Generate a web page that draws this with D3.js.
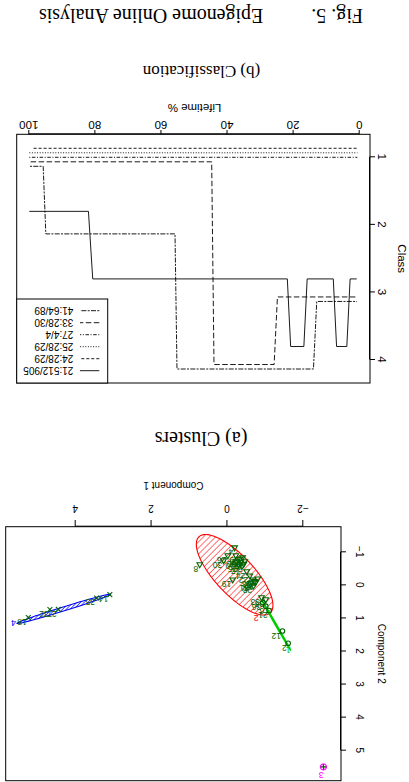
<!DOCTYPE html>
<html><head><meta charset="utf-8">
<script src="https://cdn.jsdelivr.net/npm/d3@7"></script>
<style>body{margin:0;background:#fff}svg{display:block}</style>
</head><body>
<svg id="fig" width="409" height="782"></svg>
<script>
// ---------------- (b) Classification data ----------------
const seriesNames = ["21:512/905", "24:28/29", "25:28/29", "27:4/4", "33:28/30", "41:64/89"];
const lifetimeTicks = [0, 20, 40, 60, 80, 100];
const classTicks = [1, 2, 3, 4];
const life21  = [100, 82.1, 80.8, 21.9, 20.9, 16.9, 15.9, 8.0, 7.0, 3.9, 2.9, 0.9];
const class21 = [2, 2, 3, 3, 4, 4, 3, 3, 4, 4, 3, 3];
const life24  = [98.7, 0.7];
const class24 = [1, 1];
const life25  = [100, 0.7];
const class25 = [1, 1];
const life27  = [100, 0.7];
const class27 = [1, 1];
const life33  = [99.6, 44.8, 44.1, 25.9, 24.9, 0.8];
const class33 = [1, 1, 4, 4, 3, 3];
const life41  = [99.8, 95.8, 95.0, 55.9, 55.3, 14.0, 13.0, 0.8];
const class41 = [1, 1, 2, 2, 4, 4, 3, 3];

// ---------------- (a) Clusters data ----------------
const comp1Ticks = [-2, 0, 2, 4];
const comp2Ticks = [-1, 0, 1, 2, 3, 4, 5];
// cluster "2" (red ellipse) points, triangles
const redC1  = [-0.22, -0.27, -0.35, -0.40, -0.30, -0.46, -0.38, -0.24, -0.33, -0.43,
                -0.59, -0.67, -0.74, -0.69, -0.80, -0.61, -0.72,
                 0.73, -0.19, -0.01, 0.10, -0.14, -0.51, -0.90, -1.01];
const redC2  = [-0.90, -0.78, -0.69, -0.84, -0.63, -0.72, -0.57, -0.72, -0.80, -0.64,
                -0.29, -0.17, -0.08, 0.01, -0.20, -0.05, -0.12,
                -0.63, -1.14, -0.90, -0.75, -0.17, -0.42, 0.37, 0.43];
const redLab = ["9", "10", "11", "13", "15", "16", "17", "20", "34", "37",
                "22", "23", "25", "28", "29", "31", "39",
                "8", "4", "26", "30", "19", "24", "33", "38"];
// cluster "1" (green) points, circles
const greenC1  = [-0.93, -1.01, -1.10, -1.45, -1.60];
const greenC2  = [0.52, 0.63, 0.76, 1.38, 1.75];
const greenLab = ["36", "6", "21", "12", "2"];
// cluster "4" (blue) points, crosses
const blueC1  = [3.10, 3.45, 4.46, 4.68, 5.25];
const blueC2  = [0.28, 0.38, 0.72, 0.73, 0.97];
const blueLab = ["14", "35", "27", "32", "18"];
// cluster "3" (magenta) point, plus
const magC1  = [-2.53];
const magC2  = [5.49];
const magLab = ["3"];
// ellipses: centre, first and second semi-axis vectors (data units)
const ellipseNames = ["2", "1", "4", "3"];
const ellCenter = [[-0.19, -0.32], [-1.295, 1.225], [4.315, 0.71], [-2.53, 5.49]];
const ellAxisU  = [[0.94, -1.15], [-0.365, 0.725], [1.235, 0.44], [0.08, 0]];
const ellAxisV  = [[-0.37, -0.40], [0.012, 0.006], [0.016, -0.058], [0, 0.09]];
const ellColor  = ["#ff0000", "#00cd00", "#0000ff", "#ff00ff"];
const ellLabelPos = [[-0.76, 0.99], [-1.60, 1.97], [5.64, 1.14], [-2.47, 5.74]];

// ---------------- drawing ----------------
const SANS = "'Liberation Sans', Arial, Helvetica, sans-serif";
const SERIF = "'Liberation Serif', 'Times New Roman', serif";
const svg = d3.select("#fig");
const defs = svg.append("defs");
function hatch(id, color, spacing, width) {
  const p = defs.append("pattern").attr("id", id).attr("patternUnits", "userSpaceOnUse")
    .attr("width", spacing).attr("height", spacing).attr("patternTransform", "rotate(45)");
  p.append("line").attr("x1", 0).attr("y1", 0).attr("x2", 0).attr("y2", spacing)
    .attr("stroke", color).attr("stroke-width", width);
}
hatch("hRed", "#ff0000", 4.3, 1.1);
hatch("hBlue", "#0000ff", 2.6, 1.3);
hatch("hGreen", "#00cd00", 3, 1.2);
hatch("hMag", "#ff00ff", 3, 1);
const hatchIds = ["hRed", "hGreen", "hBlue", "hMag"];

// whole figure is shown turned upside down
const root = svg.append("g").attr("transform", "rotate(180 204.5 391)");

// ===== (a) Clusters (top of unrotated page) =====
const xA = d3.scaleLinear().domain([-2, 4]).range([105.7, 333.3]);
const yA = d3.scaleLinear().domain([-1, 5]).range([229.7, 31.3]);
const gA = root.append("g");
gA.append("rect").attr("x", 68).attr("y", 1.3).attr("width", 335.3).attr("height", 254)
  .attr("fill", "none").attr("stroke", "#000").attr("stroke-width", 1);

const minus = d => d < 0 ? "\u2212" + Math.abs(d) : String(d);
const axA1 = gA.append("g").attr("transform", "translate(0,255.3)")
  .call(d3.axisBottom(xA).tickValues(comp1Ticks).tickSize(6.7).tickSizeOuter(0).tickFormat(minus));
axA1.selectAll("text").attr("y", 18.4).attr("dy", "0.35em")
  .style("font-family", SANS).style("font-size", "10px").attr("fill", "#000");
const axA2 = gA.append("g").attr("transform", "translate(68,0)")
  .call(d3.axisLeft(yA).tickValues(comp2Ticks).tickSize(5).tickSizeOuter(0).tickFormat(minus));
axA2.selectAll("text").attr("x", 0).attr("dy", "0.35em").attr("text-anchor", "middle")
  .attr("transform", "translate(-18.3,0) rotate(-90)")
  .style("font-family", SANS).style("font-size", "10px").attr("fill", "#000");
[axA1, axA2].forEach(a => { a.selectAll("line,path").attr("stroke", "#000"); a.attr("font-family", null).attr("font-size", null); });
gA.append("text").attr("x", 235.6).attr("y", 300.5).attr("text-anchor", "middle")
  .style("font-family", SANS).style("font-size", "10px").text("Component 1");
gA.append("text").attr("transform", "translate(27.3,128.3) rotate(-90)").attr("dy", "0.35em")
  .attr("text-anchor", "middle").style("font-family", SANS).style("font-size", "10px").text("Component 2");

// ellipses
const ellLine = d3.line().curve(d3.curveLinearClosed);
ellCenter.forEach((c, i) => {
  const pts = d3.range(0, 120).map(k => {
    const t = k / 120 * 2 * Math.PI;
    return [xA(c[0] + ellAxisU[i][0] * Math.cos(t) + ellAxisV[i][0] * Math.sin(t)),
            yA(c[1] + ellAxisU[i][1] * Math.cos(t) + ellAxisV[i][1] * Math.sin(t))];
  });
  gA.append("path").attr("d", ellLine(pts)).attr("fill", "url(#" + hatchIds[i] + ")")
    .attr("stroke", ellColor[i]).attr("stroke-width", i === 1 ? 1.6 : 1.1);
});

const PG = "#006400";
const ptG = gA.append("g");
function labels(c1, c2, lab) {
  ptG.selectAll(null).data(lab).enter().append("text")
    .attr("x", (d, i) => xA(c1[i]) + 1.5).attr("y", (d, i) => yA(c2[i]) - 1.5)
    .style("font-family", SANS).style("font-size", "8.5px").attr("fill", PG).text(d => d);
}
// triangles
ptG.selectAll(null).data(redC1).enter().append("path")
  .attr("d", (d, i) => { const x = xA(d), y = yA(redC2[i]); return `M${x},${y - 3.2}L${x + 2.8},${y + 1.8}L${x - 2.8},${y + 1.8}Z`; })
  .attr("fill", "none").attr("stroke", PG).attr("stroke-width", 1.1);
labels(redC1, redC2, redLab);
// circles
ptG.selectAll(null).data(greenC1).enter().append("circle")
  .attr("cx", d => xA(d)).attr("cy", (d, i) => yA(greenC2[i])).attr("r", 2.3)
  .attr("fill", "none").attr("stroke", PG).attr("stroke-width", 1.1);
labels(greenC1, greenC2, greenLab);
// crosses
ptG.selectAll(null).data(blueC1).enter().append("path")
  .attr("d", (d, i) => { const x = xA(d), y = yA(blueC2[i]); return `M${x - 2.4},${y - 2.4}L${x + 2.4},${y + 2.4}M${x - 2.4},${y + 2.4}L${x + 2.4},${y - 2.4}`; })
  .attr("stroke", PG).attr("stroke-width", 1.1);
labels(blueC1, blueC2, blueLab);
// plus
ptG.selectAll(null).data(magC1).enter().append("path")
  .attr("d", (d, i) => { const x = xA(d), y = yA(magC2[i]); return `M${x - 2.8},${y}L${x + 2.8},${y}M${x},${y - 2.8}L${x},${y + 2.8}`; })
  .attr("stroke", PG).attr("stroke-width", 1.1);
// cluster labels
gA.selectAll(null).data(ellipseNames).enter().append("text")
  .attr("x", (d, i) => xA(ellLabelPos[i][0])).attr("y", (d, i) => yA(ellLabelPos[i][1]))
  .attr("dy", "0.35em").attr("text-anchor", "middle")
  .style("font-family", SANS).style("font-size", "9px").attr("fill", (d, i) => ellColor[i]).text(d => d);

gA.append("text").attr("x", 208).attr("y", 350.5).attr("text-anchor", "middle")
  .style("font-family", SERIF).style("font-size", "20px").text("(a)  Clusters");

// ===== (b) Classification =====
const xB = d3.scaleLinear().domain([0, 100]).range([49.3, 379.7]);
const yB = d3.scaleLinear().domain([1, 4]).range([624.7, 422]);
const gB = root.append("g");
gB.append("rect").attr("x", 39).attr("y", 399).attr("width", 353.3).attr("height", 248.7)
  .attr("fill", "none").attr("stroke", "#000").attr("stroke-width", 1);
const axB1 = gB.append("g").attr("transform", "translate(0,647.7)")
  .call(d3.axisBottom(xB).tickValues(lifetimeTicks).tickSize(4.3).tickSizeOuter(0).tickFormat(d3.format("d")));
axB1.selectAll("text").attr("y", 9.5).attr("dy", "0.35em")
  .style("font-family", SANS).style("font-size", "11.5px").attr("fill", "#000");
const axB2 = gB.append("g").attr("transform", "translate(39,0)")
  .call(d3.axisLeft(yB).tickValues(classTicks).tickSize(5).tickSizeOuter(0).tickFormat(d3.format("d")));
axB2.selectAll("text").attr("x", 0).attr("dy", "0.35em").attr("text-anchor", "middle")
  .attr("transform", "translate(-11.7,0) rotate(-90)")
  .style("font-family", SANS).style("font-size", "11.5px").attr("fill", "#000");
[axB1, axB2].forEach(a => { a.selectAll("line,path").attr("stroke", "#000"); a.attr("font-family", null).attr("font-size", null); });
gB.append("text").attr("x", 214.5).attr("y", 678.5).attr("text-anchor", "middle")
  .style("font-family", SANS).style("font-size", "11.5px").text("Lifetime %");
gB.append("text").attr("transform", "translate(7.3,523.3) rotate(-90)").attr("dy", "0.35em")
  .attr("text-anchor", "middle").style("font-family", SANS).style("font-size", "11.5px").text("Class");

const lifeArr = [life21, life24, life25, life27, life33, life41];
const classArr = [class21, class24, class25, class27, class33, class41];
const dashes = [null, "3,2", "1,1.6", "1,1.6,3.5,1.6", "5.5,2.5", "2,1.3,5,1.3"];
const jitter = i => (i - 3) / 15;
const stepLine = d3.line();
lifeArr.forEach((L, s) => {
  const pts = L.map((v, k) => [xB(v), yB(classArr[s][k] + jitter(s))]);
  gB.append("path").attr("d", stepLine(pts)).attr("fill", "none").attr("stroke", "#000")
    .attr("stroke-width", 0.9).attr("stroke-dasharray", dashes[s]);
});
// legend
const leg = gB.append("g");
leg.append("rect").attr("x", 301.3).attr("y", 399).attr("width", 91).attr("height", 84)
  .attr("fill", "#fff").attr("stroke", "#000").attr("stroke-width", 1);
seriesNames.forEach((n, i) => {
  const y = 411.3 + i * 12;
  leg.append("line").attr("x1", 309.7).attr("x2", 329).attr("y1", y).attr("y2", y)
    .attr("stroke", "#000").attr("stroke-width", 0.9).attr("stroke-dasharray", dashes[i]);
  leg.append("text").attr("x", 335.7).attr("y", y).attr("dy", "0.35em")
    .style("font-family", SANS).style("font-size", "10px").text(n);
});
gB.append("text").attr("x", 207.5).attr("y", 716).attr("text-anchor", "middle")
  .style("font-family", SERIF).style("font-size", "17px").text("(b)  Classification");

// caption
root.append("text").attr("x", 46).attr("y", 773.5)
  .style("font-family", SERIF).style("font-size", "20px").text("Fig. 5.");
root.append("text").attr("x", 145.7).attr("y", 773.5)
  .style("font-family", SERIF).style("font-size", "20px").text("Epigenome Online Analysis");
</script>
</body></html>
